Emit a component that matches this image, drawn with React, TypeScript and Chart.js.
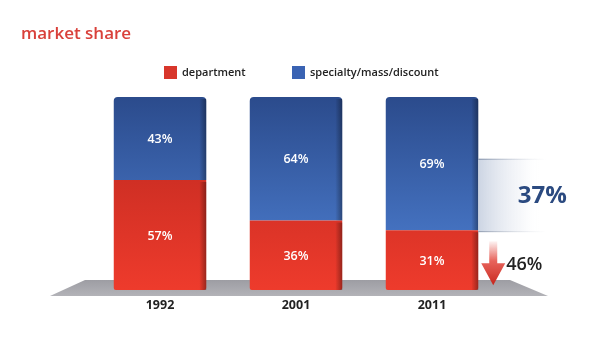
import React, { useEffect, useRef } from "react";
import { Chart, registerables } from "chart.js";

Chart.register(...registerables);

const TITLE = "market share";
const CATEGORIES = ["1992", "2001", "2011"];
const DEPARTMENT = [57, 36, 31];
const SPECIALTY = [43, 64, 69];
const SERIES_LABELS = ["department", "specialty/mass/discount"];
const BAND_TOP_VALUE = 68;
const CHANGE_SPECIALTY = "37%";
const CHANGE_DEPARTMENT = "46%";

const FONT = "'Open Sans', 'DejaVu Sans', sans-serif";
const RED = "#d8362b";
const BLUE = "#3a63b3";

const decorPlugin = {
  id: "decor",
  beforeDatasetsDraw(chart: any) {
    const { ctx, chartArea, scales } = chart;
    const y0 = scales.y.getPixelForValue(0);
    ctx.save();
    const g = ctx.createLinearGradient(0, y0 - 10, 0, y0 + 7);
    g.addColorStop(0, "#9d9da3");
    g.addColorStop(1, "#b4b4b9");
    ctx.fillStyle = g;
    ctx.beginPath();
    ctx.moveTo(chartArea.left - 7, y0 - 10);
    ctx.lineTo(chartArea.right + 10, y0 - 10);
    ctx.lineTo(chartArea.right + 48, y0 + 6);
    ctx.lineTo(chartArea.left - 42, y0 + 6);
    ctx.closePath();
    ctx.fill();
    ctx.restore();
  },
  afterDatasetsDraw(chart: any) {
    const { ctx, scales } = chart;
    const yS = scales.y;
    const red = chart.getDatasetMeta(0).data;
    const blue = chart.getDatasetMeta(1).data;
    ctx.save();
    [red, blue].forEach((bars: any[]) => {
      bars.forEach((b: any) => {
        const right = b.x + b.width / 2;
        const sg = ctx.createLinearGradient(right - 7, 0, right, 0);
        sg.addColorStop(0, "rgba(0,0,0,0)");
        sg.addColorStop(1, "rgba(0,0,0,0.35)");
        ctx.fillStyle = sg;
        ctx.fillRect(right - 7, Math.min(b.y, b.base) + 2, 7, Math.abs(b.base - b.y) - 2);
      });
    });
    ctx.fillStyle = "#ffffff";
    ctx.font = `600 12.5px ${FONT}`;
    ctx.textAlign = "center";
    ctx.textBaseline = "middle";
    [
      { bars: red, vals: DEPARTMENT },
      { bars: blue, vals: SPECIALTY },
    ].forEach(({ bars, vals }) => {
      bars.forEach((b: any, i: number) => {
        ctx.fillText(vals[i] + "%", b.x, (b.y + b.base) / 2 + 1);
      });
    });

    const last = blue[blue.length - 1];
    const bx = last.x + last.width / 2;
    const yTop = yS.getPixelForValue(BAND_TOP_VALUE);
    const yBot = yS.getPixelForValue(DEPARTMENT[DEPARTMENT.length - 1]) + 1;
    const bg = ctx.createLinearGradient(bx, 0, bx + 62, 0);
    bg.addColorStop(0, "rgba(195,205,222,0.85)");
    bg.addColorStop(0.7, "rgba(235,238,244,0.4)");
    bg.addColorStop(1, "rgba(255,255,255,0)");
    ctx.fillStyle = bg;
    ctx.fillRect(bx, yTop, 62, yBot - yTop);
    const lg = ctx.createLinearGradient(bx, 0, bx + 68, 0);
    lg.addColorStop(0, "rgba(120,135,160,0.9)");
    lg.addColorStop(1, "rgba(200,205,215,0)");
    ctx.strokeStyle = lg;
    ctx.lineWidth = 1;
    ctx.beginPath();
    ctx.moveTo(bx, yTop + 0.5);
    ctx.lineTo(bx + 68, yTop + 0.5);
    ctx.moveTo(bx, yBot + 0.5);
    ctx.lineTo(bx + 68, yBot + 0.5);
    ctx.stroke();
    ctx.fillStyle = "#2b4a80";
    ctx.font = `bold 24px ${FONT}`;
    ctx.textAlign = "center";
    ctx.textBaseline = "middle";
    ctx.fillText(CHANGE_SPECIALTY, bx + 64, (yTop + yBot) / 2 + 1);

    const ax = bx + 15;
    const aTop = yBot + 10;
    const aHead = yBot + 32;
    const aTip = yBot + 54;
    const ag = ctx.createLinearGradient(0, aTop, 0, aTip);
    ag.addColorStop(0, "rgba(225,60,50,0.05)");
    ag.addColorStop(0.45, "rgba(225,60,50,0.8)");
    ag.addColorStop(1, "#c8281f");
    ctx.fillStyle = ag;
    ctx.beginPath();
    ctx.moveTo(ax - 4, aTop);
    ctx.lineTo(ax + 4, aTop);
    ctx.lineTo(ax + 4, aHead);
    ctx.lineTo(ax + 12, aHead);
    ctx.lineTo(ax, aTip);
    ctx.lineTo(ax - 12, aHead);
    ctx.lineTo(ax - 4, aHead);
    ctx.closePath();
    ctx.fill();
    ctx.fillStyle = "#222222";
    ctx.font = `600 18px ${FONT}`;
    ctx.textAlign = "left";
    ctx.fillText(CHANGE_DEPARTMENT, ax + 13, aHead + 2);

    ctx.fillStyle = "#d9403a";
    ctx.font = `600 17px ${FONT}`;
    ctx.textAlign = "left";
    ctx.fillText(TITLE, 21, 34);

    const colors = [RED, BLUE];
    const xs = [164, 292];
    ctx.font = `600 11px ${FONT}`;
    SERIES_LABELS.forEach((lab, i) => {
      ctx.fillStyle = colors[i];
      ctx.fillRect(xs[i], 66, 13, 13);
      ctx.fillStyle = "#222222";
      ctx.fillText(lab, xs[i] + 18, 73);
    });
    ctx.restore();
  },
};

function grad(top: string, bottom: string) {
  return (c: any) => {
    const area = c.chart.chartArea;
    if (!area) return bottom;
    const g = c.chart.ctx.createLinearGradient(0, area.top, 0, area.bottom);
    g.addColorStop(0, top);
    g.addColorStop(1, bottom);
    return g;
  };
}

export default function App() {
  const ref = useRef<HTMLCanvasElement>(null);
  useEffect(() => {
    document.body.style.margin = "0";
    const chart = new Chart(ref.current!, {
      type: "bar",
      data: {
        labels: CATEGORIES,
        datasets: [
          {
            label: SERIES_LABELS[0],
            data: DEPARTMENT,
            backgroundColor: grad("#b8261e", "#ee3b2c"),
            borderRadius: { topLeft: 0, topRight: 0, bottomLeft: 2, bottomRight: 2 },
            borderSkipped: false,
          },
          {
            label: SERIES_LABELS[1],
            data: SPECIALTY,
            backgroundColor: grad("#2b4b8c", "#4f82d6"),
            borderRadius: { topLeft: 4, topRight: 4, bottomLeft: 0, bottomRight: 0 },
            borderSkipped: false,
          },
        ],
      },
      options: {
        responsive: false,
        animation: false,
        devicePixelRatio: 1,
        datasets: { bar: { barPercentage: 1, categoryPercentage: 0.68 } },
        layout: { padding: { left: 92, right: 98, top: 97, bottom: 31 } },
        plugins: { legend: { display: false }, title: { display: false }, tooltip: { enabled: false } },
        scales: {
          x: {
            stacked: true,
            grid: { display: false, drawTicks: false },
            border: { display: false },
            ticks: { color: "#222222", font: { family: FONT, size: 12.5, weight: "bold" }, padding: 8 },
          },
          y: { stacked: true, min: 0, max: 100, display: false },
        },
      },
      plugins: [decorPlugin],
    });
    return () => chart.destroy();
  }, []);
  return (
    <div style={{ width: 598, height: 352 }}>
      <canvas ref={ref} width={598} height={352} />
    </div>
  );
}
